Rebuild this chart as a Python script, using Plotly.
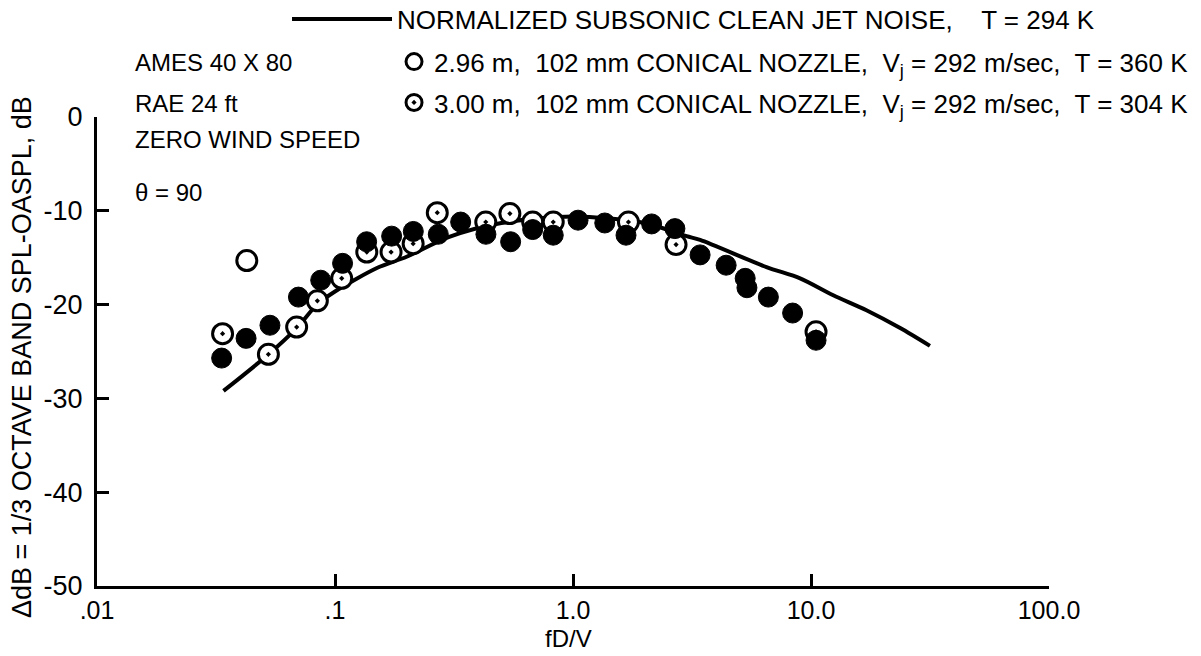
import plotly.graph_objects as go

# ---------------- data ----------------
# normalized subsonic clean jet noise curve
curve_fdv = [0.034, 0.052, 0.069, 0.084, 0.1, 0.15, 0.2, 0.3, 0.5, 1.0, 2.0, 3.0, 3.42, 6.5, 9.0, 12.4, 17.1, 23.7, 31.6]
curve_db = [-29.2, -25.4, -22.5, -20.0, -18.6, -16.1, -14.9, -12.8, -11.3, -10.6, -11.3, -12.7, -13.1, -16.0, -17.2, -19.0, -20.6, -22.5, -24.4]

# filled symbols
filled_fdv = [0.0334, 0.0423, 0.0533, 0.0702, 0.0871, 0.1076, 0.1358, 0.173, 0.2133, 0.2716,
              0.3373, 0.4306, 0.547, 0.677, 0.826, 1.05, 1.36, 1.67, 2.14, 2.68,
              3.42, 4.40, 5.29, 5.38, 6.62, 8.37, 10.5]
filled_db = [-25.7, -23.6, -22.2, -19.2, -17.4, -15.6, -13.3, -12.7, -12.2, -12.5,
             -11.2, -12.5, -13.3, -12.0, -12.6, -11.0, -11.3, -12.6, -11.4, -11.9,
             -14.7, -15.8, -17.2, -18.2, -19.2, -20.9, -23.8]

# AMES 40 x 80 open symbols
ames_fdv = [0.0426]
ames_db = [-15.3]

# RAE 24 ft dotted symbols
rae_fdv = [0.0337, 0.0525, 0.069, 0.0843, 0.1067, 0.136, 0.172, 0.213, 0.269, 0.43,
           0.543, 0.677, 0.826, 1.71, 2.71, 10.5]
rae_db = [-23.1, -25.3, -22.4, -19.6, -17.2, -14.4, -14.4, -13.5, -10.2, -11.2,
          -10.3, -11.2, -11.2, -11.2, -13.6, -22.9]

x_tick_vals = [0.01, 0.1, 1.0, 10.0, 100.0]
x_tick_text = [".01", ".1", "1.0", "10.0", "100.0"]
y_tick_vals = [0, -10, -20, -30, -40, -50]
y_tick_text = ["0", "-10", "-20", "-30", "-40", "-50"]

FONT = "Liberation Sans, Arial, sans-serif"

fig = go.Figure()

fig.add_trace(go.Scatter(
    x=curve_fdv, y=curve_db, mode="lines",
    line=dict(color="black", width=4, shape="spline", smoothing=0.8),
    name="NORMALIZED SUBSONIC CLEAN JET NOISE,    T = 294 K",
    legend="legend2", showlegend=True,
))

fig.add_trace(go.Scatter(
    x=ames_fdv, y=ames_db, mode="markers",
    marker=dict(symbol="circle", size=20, color="white",
                line=dict(color="black", width=3)),
    name="2.96 m,  102 mm CONICAL NOZZLE,  V<sub>j</sub> = 292 m/sec,  T = 360 K",
    legendgroup="ames",
))

fig.add_trace(go.Scatter(
    x=rae_fdv, y=rae_db, mode="markers",
    marker=dict(symbol="circle-dot", size=20, color="white",
                line=dict(color="black", width=3)),
    name="3.00 m,  102 mm CONICAL NOZZLE,  V<sub>j</sub> = 292 m/sec,  T = 304 K",
    legendgroup="rae",
))

fig.add_trace(go.Scatter(
    x=filled_fdv, y=filled_db, mode="markers",
    marker=dict(symbol="circle", size=20, color="black",
                line=dict(color="black", width=1)),
    showlegend=False, name="filled",
))

fig.update_layout(
    width=1201, height=656,
    margin=dict(l=97, r=152, t=117, b=70, autoexpand=False),
    plot_bgcolor="white", paper_bgcolor="white",
    font=dict(family=FONT, size=24, color="black"),
    showlegend=True,
    legend=dict(x=0.312, xanchor="left", y=1.168, yanchor="top",
                bgcolor="rgba(0,0,0,0)", borderwidth=0,
                font=dict(family=FONT, size=26, color="black"),
                traceorder="grouped", tracegroupgap=4, itemsizing="trace"),
    legend2=dict(x=0.1996, xanchor="left", y=1.259, yanchor="top",
                 bgcolor="rgba(0,0,0,0)", borderwidth=0, itemwidth=100,
                 font=dict(family=FONT, size=26, color="black")),
    xaxis=dict(type="log", range=[-2, 2], tickmode="array",
               tickvals=x_tick_vals, ticktext=x_tick_text,
               ticks="inside", ticklen=12, tickwidth=3, tickcolor="black",
               showline=True, linewidth=3, linecolor="black",
               showgrid=False, zeroline=False,
               tickfont=dict(family=FONT, size=25, color="black")),
    yaxis=dict(range=[-50, 0], tickmode="array",
               tickvals=y_tick_vals, ticktext=y_tick_text,
               ticks="inside", ticklen=12, tickwidth=3, tickcolor="black",
               showline=True, linewidth=3, linecolor="black",
               showgrid=False, zeroline=False, ticklabelstandoff=6,
               tickfont=dict(family=FONT, size=27, color="black")),
)

ann = dict(xref="paper", yref="paper", showarrow=False,
           font=dict(family=FONT, size=24, color="black"))
fig.add_annotation(text="AMES 40 X 80", x=0.0378, y=1.117, xanchor="left", yanchor="middle", **ann)
fig.add_annotation(text="RAE 24 ft", x=0.0378, y=1.028, xanchor="left", yanchor="middle", **ann)
fig.add_annotation(text="ZERO WIND SPEED", x=0.0378, y=0.951, xanchor="left", yanchor="middle", **ann)
fig.add_annotation(text="θ = 90", x=0.0378, y=0.838, xanchor="left", yanchor="middle", **ann)
fig.add_annotation(text="fD/V", x=0.495, y=-0.111, xanchor="center", yanchor="middle", **ann)
fig.add_annotation(text="ΔdB = 1/3 OCTAVE BAND SPL-OASPL, dB", x=-0.0788, y=0.488,
                   xanchor="center", yanchor="middle", textangle=-90,
                   xref="paper", yref="paper", showarrow=False,
                   font=dict(family=FONT, size=27, color="black"))

fig.write_html("out.html")
